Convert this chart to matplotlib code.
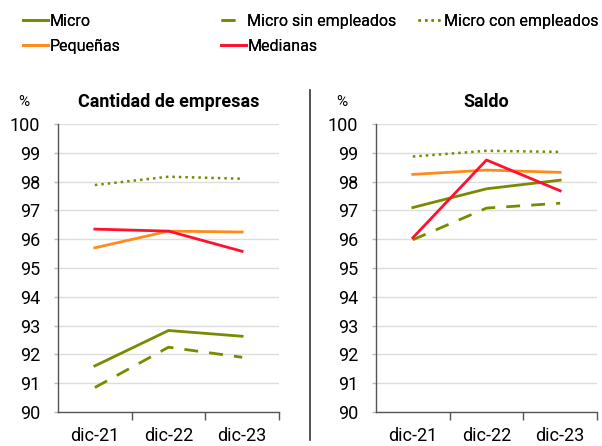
import matplotlib
matplotlib.use("Agg")
import matplotlib.pyplot as plt
from matplotlib.lines import Line2D

plt.rcParams['font.family'] = ['Roboto', 'DejaVu Sans']

categories = ["dic-21", "dic-22", "dic-23"]
series_names = ["Micro", "Micro sin empleados", "Micro con empleados", "Pequeñas", "Medianas"]

cantidad_micro = [91.6, 92.83, 92.63]
cantidad_sin = [90.85, 92.25, 91.9]
cantidad_con = [97.88, 98.17, 98.1]
cantidad_peq = [95.7, 96.28, 96.25]
cantidad_med = [96.35, 96.28, 95.58]

saldo_micro = [97.1, 97.75, 98.05]
saldo_sin = [95.98, 97.08, 97.25]
saldo_con = [98.87, 99.07, 99.03]
saldo_peq = [98.25, 98.4, 98.32]
saldo_med = [96.05, 98.75, 97.68]

olive = "#7a8a00"
orange = "#ff8c1a"
red = "#ff1030"
styles = [
    dict(color=olive, ls="-", lw=2.0),
    dict(color=olive, ls=(0, (5, 4)), lw=2.0),
    dict(color=olive, ls=(0, (1, 1.6)), lw=1.8),
    dict(color=orange, ls="-", lw=2.0),
    dict(color=red, ls="-", lw=2.0),
]

fig = plt.figure(figsize=(6.02, 4.46), dpi=100)
W, H = 602, 446
ax1 = fig.add_axes([58 / W, 1 - 412 / H, (279 - 58) / W, (412 - 124) / H])
ax2 = fig.add_axes([376 / W, 1 - 412 / H, (597 - 376) / W, (412 - 124) / H])

def draw(ax, data, title, pct_x):
    x = list(range(len(categories)))
    for vals, st in zip(data, styles):
        ax.plot(x, vals, **st)
    ax.set_xlim(-0.5, 2.5)
    ax.set_ylim(90, 100)
    ax.set_yticks(range(90, 101))
    ax.set_xticks(x)
    ax.set_xticklabels(categories, fontsize=13)
    ax.tick_params(axis='x', length=0, pad=11)
    ax.set_xticks([0.5, 1.5, 2.5], minor=True)
    ax.tick_params(axis='x', which='minor', length=6, width=1, color="#555555", direction='out')
    ax.tick_params(axis='y', length=3, width=1, color="#bbbbbb", labelsize=13, pad=10)
    ax.grid(axis='y', color="#dddddd", lw=1)
    ax.set_axisbelow(True)
    for s in ['top', 'right']:
        ax.spines[s].set_visible(False)
    for s in ['left', 'bottom']:
        ax.spines[s].set_color("#555555")
        ax.spines[s].set_linewidth(1)
    ax.set_title(title, fontsize=13, fontweight='bold', pad=12)
    fig.text(pct_x / W, 1 - 102 / H, "%", fontsize=11, ha='center', va='center')

draw(ax1, [cantidad_micro, cantidad_sin, cantidad_con, cantidad_peq, cantidad_med], "Cantidad de empresas", 24)
draw(ax2, [saldo_micro, saldo_sin, saldo_con, saldo_peq, saldo_med], "Saldo", 342)

# separator line
fig.add_artist(Line2D([310 / W, 310 / W], [1 - 90 / H, 1 - 440 / H], color="#333333", lw=1.2))

handles = [Line2D([], [], **st) for st in styles]
columns = [([0, 3], 23), ([1, 4], 221), ([2], 418)]
for idxs, xpos in columns:
    leg = fig.legend([handles[i] for i in idxs], [series_names[i] for i in idxs],
                     loc='upper left', bbox_to_anchor=(xpos / W, 1 - 14 / H), ncol=1, frameon=False,
                     fontsize=11.5, handlelength=1.56, handletextpad=0.08,
                     labelspacing=0.62, borderaxespad=0, borderpad=0)
    fig.add_artist(leg)

fig.savefig("out.png", dpi=100)
